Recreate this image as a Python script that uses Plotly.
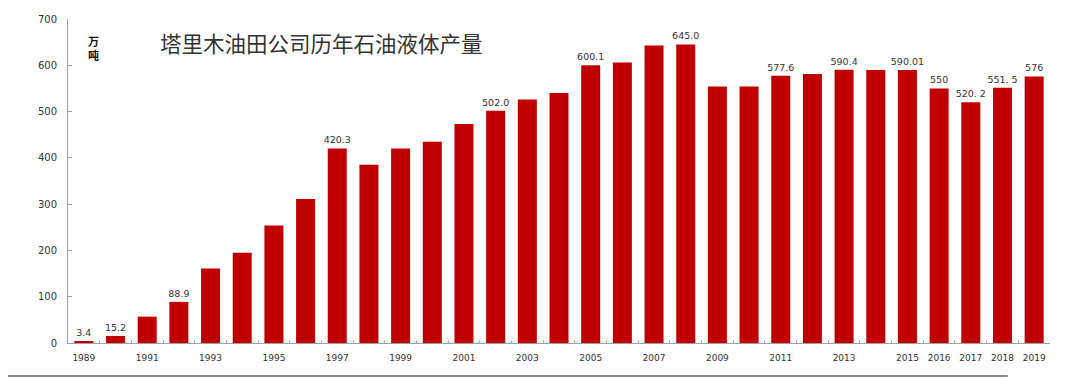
import plotly.graph_objects as go

years = list(range(1989, 2020))
values = [3.4, 15.2, 57, 88.9, 161, 195, 254, 311, 420.3, 385, 420, 435, 473, 502.0,
          526, 540, 600.1, 606, 643, 645.0, 554, 554, 577.6, 581, 590.4, 590, 590.01,
          550, 520.2, 551.5, 576]
bar_labels = {1989: "3.4", 1990: "15.2", 1992: "88.9", 1997: "420.3", 2002: "502.0",
              2005: "600.1", 2008: "645.0", 2011: "577.6", 2013: "590.4", 2015: "590.01",
              2016: "550", 2017: "520. 2", 2018: "551. 5", 2019: "576"}
tick_years = [1989, 1991, 1993, 1995, 1997, 1999, 2001, 2003, 2005, 2007, 2009, 2011,
              2013, 2015, 2016, 2017, 2018, 2019]
title_text = "塔里木油田公司历年石油液体产量"
unit_text = "万<br>吨"

texts = [bar_labels.get(y, "") for y in years]
cats = [str(y) for y in years]

fig = go.Figure(go.Bar(
    x=cats, y=values, text=texts, textposition="outside",
    textfont=dict(family="DejaVu Sans", size=9.5, color="#333333"),
    marker=dict(color="#C00000", line=dict(width=0)),
    cliponaxis=False,
))

fig.update_layout(
    width=1072, height=370,
    margin=dict(l=60, r=30, t=11, b=35, autoexpand=False),
    paper_bgcolor="white", plot_bgcolor="white",
    bargap=0.4, showlegend=False,
    uniformtext=dict(minsize=9, mode="show"),
    font=dict(family="DejaVu Sans", color="#333333"),
    xaxis=dict(
        type="category", automargin=False, tickangle=0,
        tickvals=cats,
        ticktext=[str(y) if y in tick_years else "" for y in years],
        tickson="boundaries", ticks="inside", ticklen=3, tickcolor="#d9a0b0",
        ticklabelstandoff=6,
        showline=True, linecolor="#a0a0a0", linewidth=1,
        tickfont=dict(family="DejaVu Sans", size=9, color="#333333"),
        showgrid=False,
    ),
    yaxis=dict(
        range=[0, 700], tickvals=[0, 100, 200, 300, 400, 500, 600, 700],
        automargin=False,
        ticks="inside", ticklen=4, tickcolor="#a0a0a0",
        ticklabelstandoff=8,
        showline=True, linecolor="#a0a0a0", linewidth=1,
        showgrid=False, zeroline=False,
        tickfont=dict(family="DejaVu Sans", size=10, color="#333333"),
    ),
    annotations=[
        dict(text=title_text, xref="paper", yref="paper", x=0.258, y=0.926,
             xanchor="center", yanchor="middle", showarrow=False,
             font=dict(family="Noto Sans CJK SC", size=21.5, color="#333333")),
        dict(text="<b>" + unit_text + "</b>", xref="paper", yref="paper", x=0.026, y=0.91,
             xanchor="center", yanchor="middle", showarrow=False,
             font=dict(family="Noto Sans CJK SC", size=11, color="#111111")),
    ],
    shapes=[
        dict(type="line", xref="paper", yref="paper", x0=-0.062, x1=0.957, y0=-0.102, y1=-0.102,
             line=dict(color="#888888", width=2)),
    ],
)

fig.write_html("out.html")
